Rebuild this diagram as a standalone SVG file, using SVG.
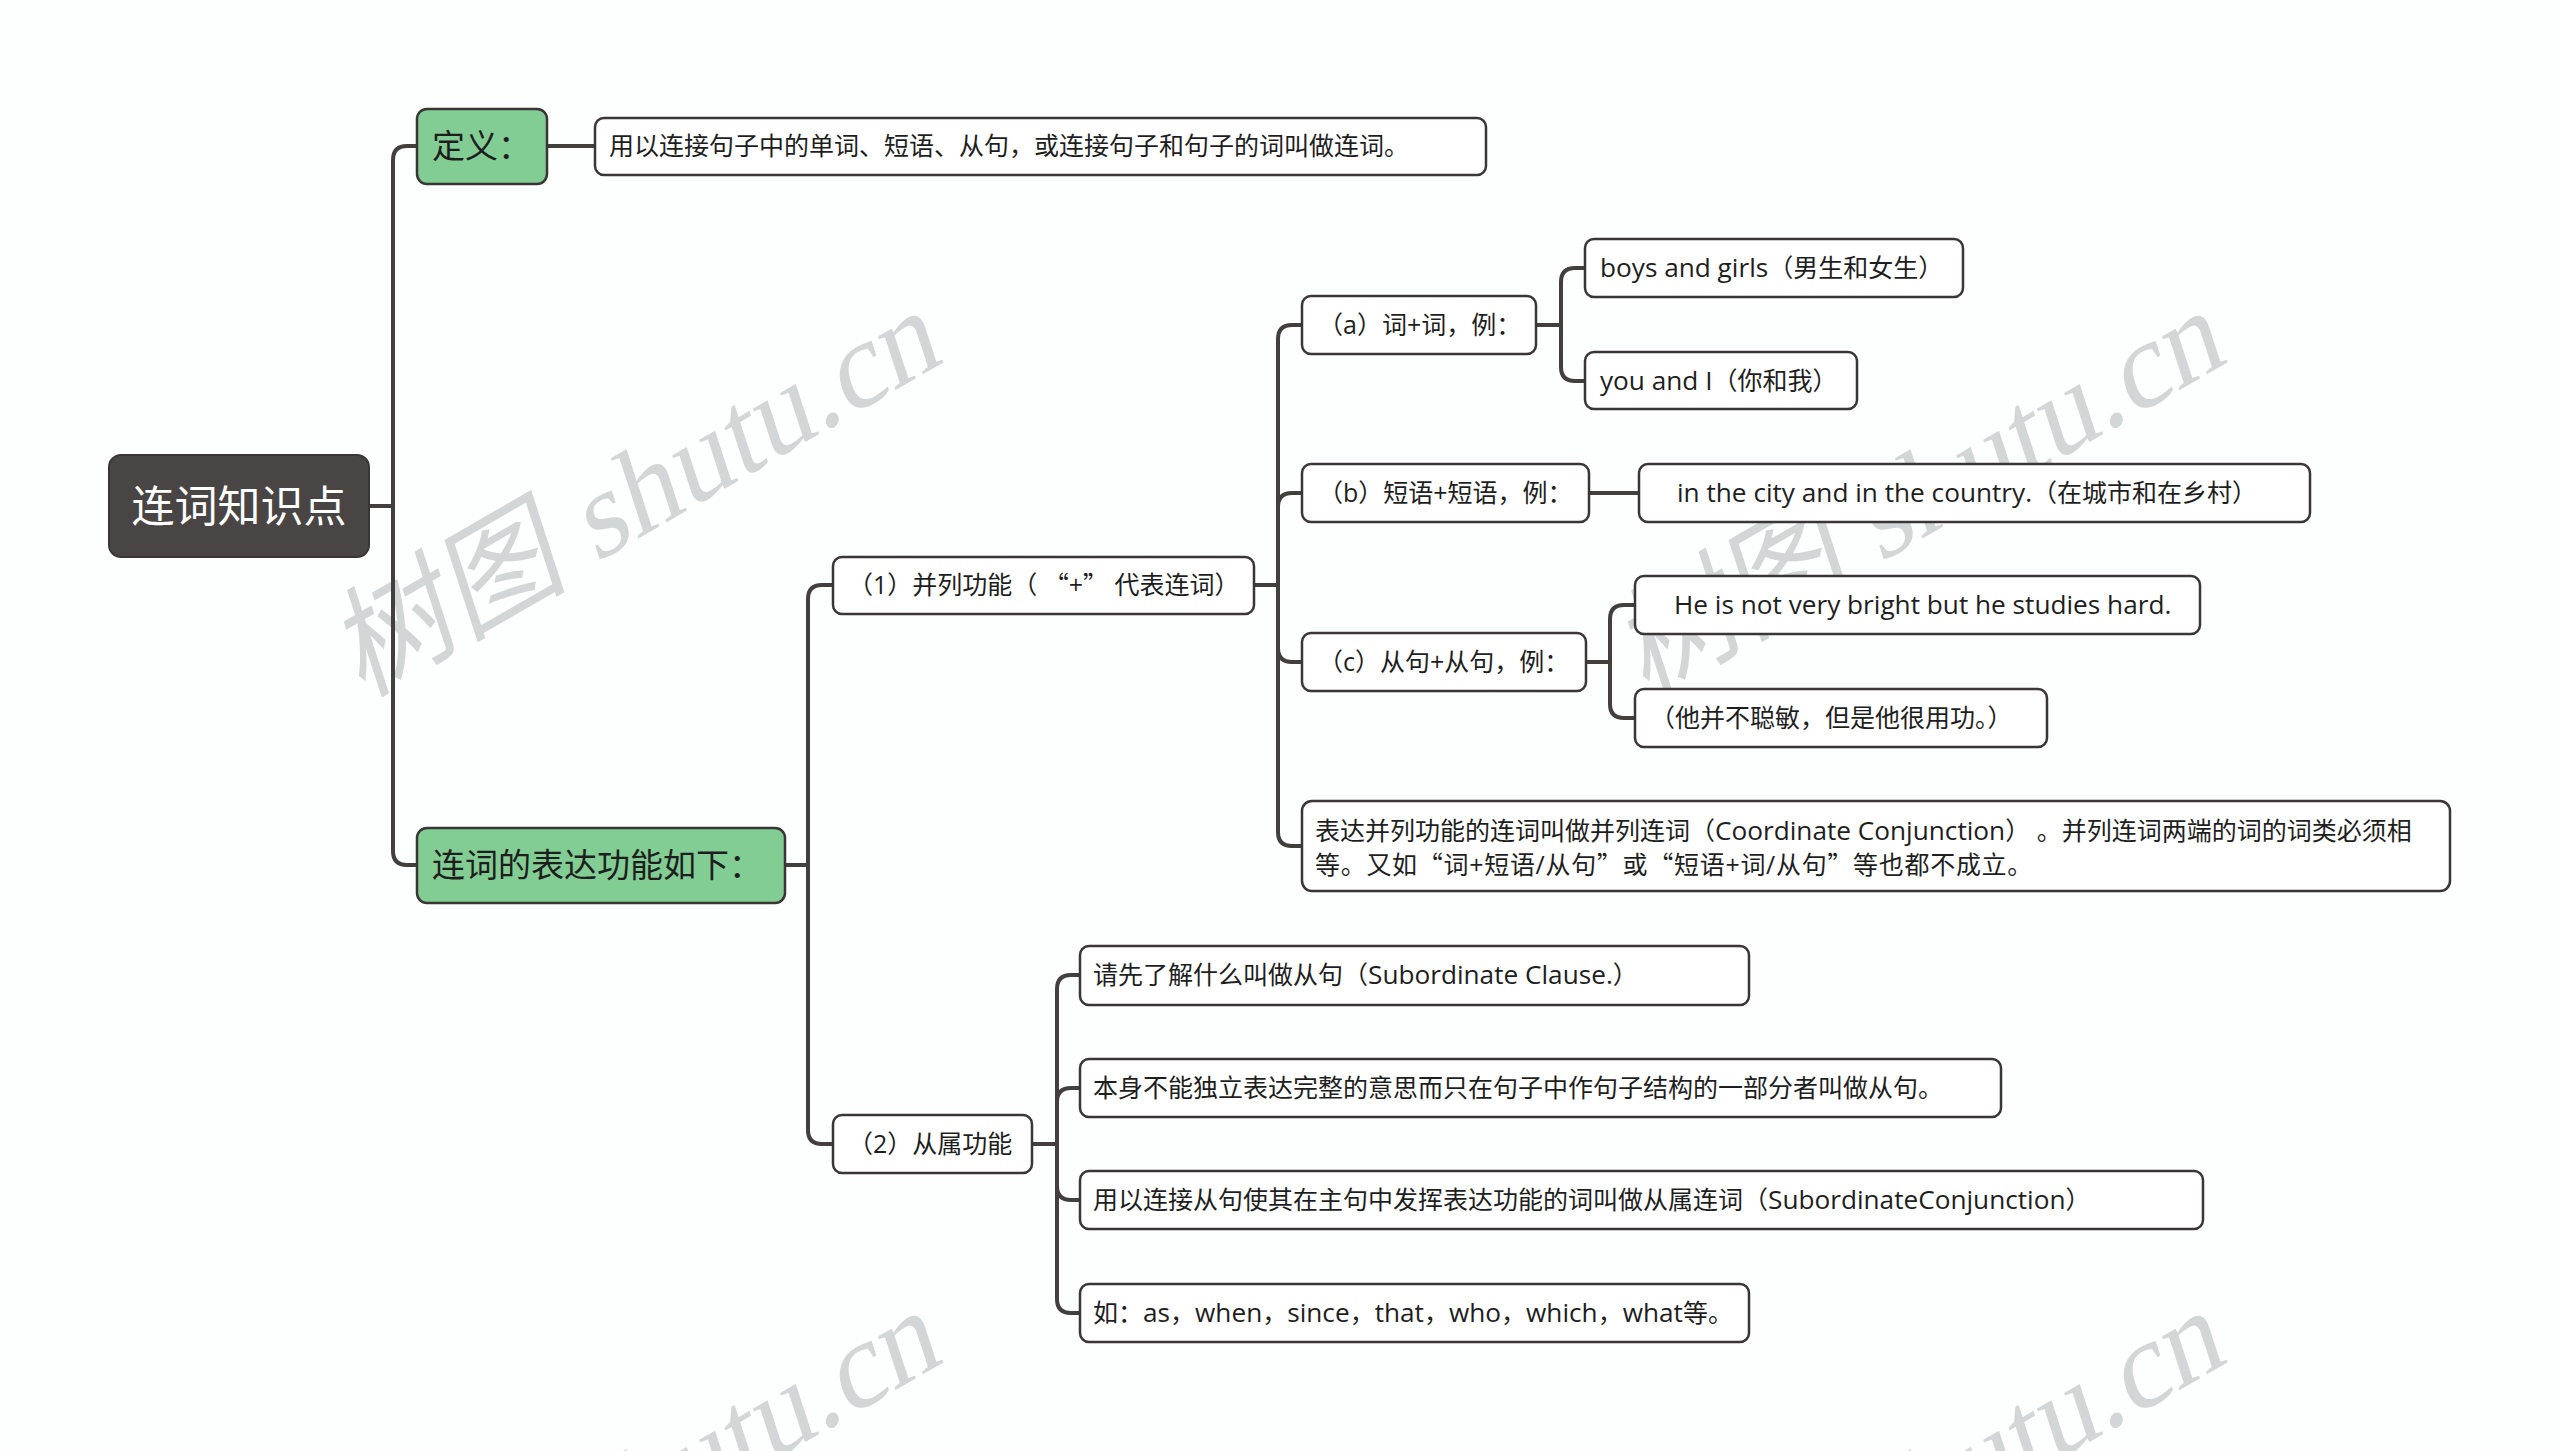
<svg xmlns="http://www.w3.org/2000/svg" width="2560" height="1451" viewBox="0 0 2560 1451">
<defs>
<style>
.bg{fill:#fdfefe}
.wm{font-family:"Liberation Serif","Noto Sans CJK SC",serif;font-size:120px;fill:#d2d6d7}
.root rect{fill:#4a4545;stroke:#3a3636;stroke-width:2}
.root text{font-family:"Noto Sans CJK SC",sans-serif;font-size:43px;fill:#ffffff}
.l1 rect{fill:#82cd94;stroke:#3a3636;stroke-width:2.5}
.l1 text{font-family:"Open Sans","Noto Sans CJK SC",sans-serif;font-size:33px;fill:#1e1e1e}
.nd rect{fill:#ffffff;stroke:#3a3636;stroke-width:2.5}
.nd text{font-family:"Open Sans","Noto Sans CJK SC",sans-serif;font-size:25px;fill:#1e1e1e}
.cjk{font-family:"Noto Sans CJK SC",sans-serif}
.lt{font-size:26.2px}
.conn path{fill:none;stroke:#433f3f;stroke-width:4;stroke-linecap:round}
</style>
</defs>
<rect class="bg" x="0" y="0" width="2560" height="1451"/>

<g id="watermarks">
<text class="wm" transform="translate(362,698) rotate(-30) skewX(-12)">树图 shutu.cn</text>
<text class="wm" transform="translate(1646,698) rotate(-30) skewX(-12)">树图 shutu.cn</text>
<text class="wm" transform="translate(362,1698) rotate(-30) skewX(-12)">树图 shutu.cn</text>
<text class="wm" transform="translate(1646,1698) rotate(-30) skewX(-12)">树图 shutu.cn</text>
</g>

<g id="connectors" class="conn">
<path d="M369 506 H393"/>
<path d="M393 506 V160 Q393 146 407 146 H416"/>
<path d="M393 506 V851 Q393 865 407 865 H416"/>
<path d="M547 146 H595"/>
<path d="M785 865 H808"/>
<path d="M808 865 V599 Q808 585 822 585 H833"/>
<path d="M808 865 V1130 Q808 1144 822 1144 H833"/>
<path d="M1254 585 H1278"/>
<path d="M1278 585 V339 Q1278 325 1292 325 H1302"/>
<path d="M1278 585 V507 Q1278 493 1292 493 H1302"/>
<path d="M1278 585 V648 Q1278 662 1292 662 H1302"/>
<path d="M1278 585 V832 Q1278 846 1292 846 H1302"/>
<path d="M1536 325 H1561"/>
<path d="M1561 325 V282 Q1561 268 1575 268 H1585"/>
<path d="M1561 325 V367 Q1561 381 1575 381 H1585"/>
<path d="M1589 493 H1639"/>
<path d="M1586 662 H1610"/>
<path d="M1610 662 V619 Q1610 605 1624 605 H1635"/>
<path d="M1610 662 V704 Q1610 718 1624 718 H1635"/>
<path d="M1032 1144 H1057"/>
<path d="M1057 1144 V989 Q1057 975 1071 975 H1080"/>
<path d="M1057 1144 V1102 Q1057 1088 1071 1088 H1080"/>
<path d="M1057 1144 V1186 Q1057 1200 1071 1200 H1080"/>
<path d="M1057 1144 V1299 Q1057 1313 1071 1313 H1080"/>
</g>

<g id="root" class="root">
<rect x="109" y="455" width="260" height="102" rx="12"/>
<text x="239" y="522" text-anchor="middle">连词知识点</text>
</g>

<g id="n-def-label" class="l1">
<rect x="417" y="109" width="130" height="75" rx="10"/>
<text x="432" y="158">定义：</text>
</g>

<g id="n-def-text" class="nd">
<rect x="595" y="118" width="891" height="57" rx="9"/>
<text x="609" y="155">用以连接句子中的单词、短语、从句，或连接句子和句子的词叫做连词。</text>
</g>

<g id="n-func" class="l1">
<rect x="417" y="828" width="368" height="75" rx="10"/>
<text x="432" y="877">连词的表达功能如下：</text>
</g>

<g id="n-coord" class="nd">
<rect x="833" y="557" width="421" height="57" rx="9"/>
<text x="848" y="594">（1）并列功能（ <tspan class="cjk">“</tspan>+<tspan class="cjk">”</tspan> 代表连词）</text>
</g>

<g id="n-a" class="nd">
<rect x="1302" y="296" width="234" height="58" rx="9"/>
<text x="1318" y="334">（a）词+词，例：</text>
</g>

<g id="n-a1" class="nd">
<rect x="1585" y="239" width="378" height="58" rx="9"/>
<text x="1600" y="277"><tspan class="lt">boys and girls</tspan>（男生和女生）</text>
</g>

<g id="n-a2" class="nd">
<rect x="1585" y="352" width="272" height="57" rx="9"/>
<text x="1600" y="390"><tspan class="lt">you and I</tspan>（你和我）</text>
</g>

<g id="n-b" class="nd">
<rect x="1302" y="464" width="287" height="58" rx="9"/>
<text x="1318" y="502">（b）短语+短语，例：</text>
</g>

<g id="n-b1" class="nd">
<rect x="1639" y="464" width="671" height="58" rx="9"/>
<text x="1677" y="502"><tspan class="lt">in the city and in the country.</tspan>（在城市和在乡村）</text>
</g>

<g id="n-c" class="nd">
<rect x="1302" y="633" width="284" height="58" rx="9"/>
<text x="1318" y="671">（c）从句+从句，例：</text>
</g>

<g id="n-c1" class="nd">
<rect x="1635" y="576" width="565" height="58" rx="9"/>
<text x="1674" y="614"><tspan class="lt">He is not very bright but he studies hard.</tspan></text>
</g>

<g id="n-c2" class="nd">
<rect x="1635" y="689" width="412" height="58" rx="9"/>
<text x="1650" y="727">（他并不聪敏，但是他很用功。）</text>
</g>

<g id="n-coord-note" class="nd">
<rect x="1302" y="801" width="1148" height="90" rx="10"/>
<text x="1315" y="840">表达并列功能的连词叫做并列连词（<tspan class="lt">Coordinate Conjunction</tspan>） 。并列连词两端的词的词类必须相</text>
<text x="1315" y="874" letter-spacing="0.7">等。又如<tspan class="cjk">“</tspan>词+短语/从句<tspan class="cjk">”</tspan>或<tspan class="cjk">“</tspan>短语+词/从句<tspan class="cjk">”</tspan>等也都不成立。</text>
</g>

<g id="n-sub" class="nd">
<rect x="833" y="1115" width="199" height="58" rx="9"/>
<text x="848" y="1153">（2）从属功能</text>
</g>

<g id="n-s1" class="nd">
<rect x="1080" y="946" width="669" height="59" rx="9"/>
<text x="1093" y="984">请先了解什么叫做从句（<tspan class="lt">Subordinate Clause.</tspan>）</text>
</g>

<g id="n-s2" class="nd">
<rect x="1080" y="1059" width="921" height="58" rx="9"/>
<text x="1093" y="1097">本身不能独立表达完整的意思而只在句子中作句子结构的一部分者叫做从句。</text>
</g>

<g id="n-s3" class="nd">
<rect x="1080" y="1171" width="1123" height="58" rx="9"/>
<text x="1093" y="1209">用以连接从句使其在主句中发挥表达功能的词叫做从属连词（<tspan class="lt">SubordinateConjunction</tspan>）</text>
</g>

<g id="n-s4" class="nd">
<rect x="1080" y="1284" width="669" height="58" rx="9"/>
<text x="1093" y="1322">如：<tspan class="lt">as</tspan>，<tspan class="lt">when</tspan>，<tspan class="lt">since</tspan>，<tspan class="lt">that</tspan>，<tspan class="lt">who</tspan>，<tspan class="lt">which</tspan>，<tspan class="lt">what</tspan>等。</text>
</g>
</svg>
